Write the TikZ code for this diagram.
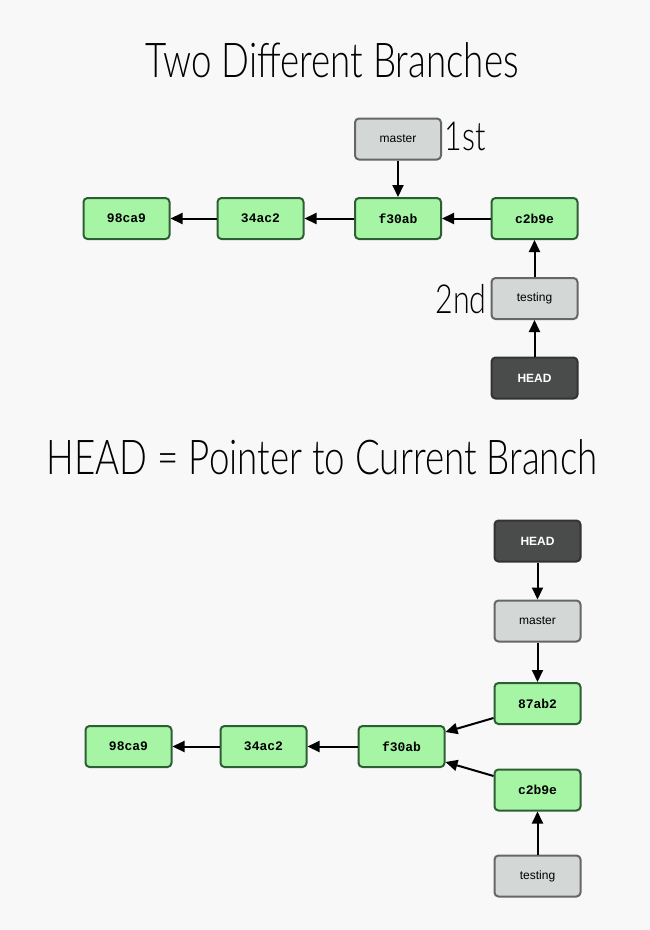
\documentclass[tikz,border=0pt]{standalone}
\usepackage{fontspec}
\setmainfont{Liberation Sans}
\newfontfamily\monofont{Liberation Mono}
\newfontfamily\titlefont{Lato}[UprightFont={* Light}]
\usetikzlibrary{arrows.meta}
\definecolor{bg}{HTML}{F8F8F8}
\definecolor{cfill}{HTML}{A5F5A5}
\definecolor{cdraw}{HTML}{2E5E34}
\definecolor{gfill}{HTML}{D3D8D6}
\definecolor{gdraw}{HTML}{666666}
\definecolor{hfill}{HTML}{4A4C4B}
\definecolor{hdraw}{HTML}{333333}
\tikzset{
  box/.style={rounded corners=4pt, line width=2pt, minimum width=86pt, minimum height=41pt, inner sep=0pt},
  commit/.style={box, fill=cfill, draw=cdraw, font=\monofont\bfseries\fontsize{13}{15}\selectfont},
  branch/.style={box, fill=gfill, draw=gdraw, font=\fontsize{12}{14}\selectfont},
  headbox/.style={box, fill=hfill, draw=hdraw, text=white, font=\bfseries\fontsize{12}{14}\selectfont},
  arr/.style={line width=2pt, -{Triangle[length=12pt,width=11pt]}},
  title/.style={font=\titlefont\fontsize{48}{52}\selectfont, inner sep=0pt},
  note/.style={font=\titlefont\fontsize{40}{44}\selectfont, inner sep=0pt},
}
\begin{document}
\begin{tikzpicture}[x=1pt,y=-1pt]
\fill[bg] (0,0) rectangle (650,930);
\useasboundingbox (0,0) rectangle (650,930);
% titles
\node[title] (t1) at (332,60) {\scalebox{0.765}[1]{Two Different Branches}};
\node[title] (t2) at (322,457) {\scalebox{0.765}[1]{HEAD = Pointer to Current Branch}};
% top diagram
\node[branch] (m1) at (398,139) {master};
\node[commit] (a1) at (126.5,218.5) {98ca9};
\node[commit] (b1) at (260.5,218.5) {34ac2};
\node[commit] (c1) at (398,218.5) {f30ab};
\node[commit] (d1) at (534.5,218.5) {c2b9e};
\node[branch] (te1) at (534.5,298.5) {testing};
\node[headbox] (h1) at (534.5,378) {HEAD};
\node[note] (n1) at (465,136) {\scalebox{0.76}[1]{1st}};
\node[note] (n2) at (461,299) {\scalebox{0.76}[1]{2nd}};
\draw[arr] (d1) -- (c1);
\draw[arr] (c1) -- (b1);
\draw[arr] (b1) -- (a1);
\draw[arr] (m1) -- (c1);
\draw[arr] (te1) -- (d1);
\draw[arr] (h1) -- (te1);
% bottom diagram
\node[headbox] (h2) at (537.5,541) {HEAD};
\node[branch] (m2) at (537.5,621) {master};
\node[commit] (e2) at (537.5,703.5) {87ab2};
\node[commit] (c2) at (401.5,746.5) {f30ab};
\node[commit] (b2) at (263.5,746.5) {34ac2};
\node[commit] (a2) at (128.5,746.5) {98ca9};
\node[commit] (d2) at (537.5,790) {c2b9e};
\node[branch] (te2) at (537.5,876) {testing};
\draw[arr] (h2) -- (m2);
\draw[arr] (m2) -- (e2);
\draw[arr] (e2.west |- 0,718) -- (c2.east |- 0,732);
\draw[arr] (d2.west |- 0,776) -- (c2.east |- 0,762);
\draw[arr] (c2) -- (b2);
\draw[arr] (b2) -- (a2);
\draw[arr] (te2) -- (d2);
\end{tikzpicture}
\end{document}
